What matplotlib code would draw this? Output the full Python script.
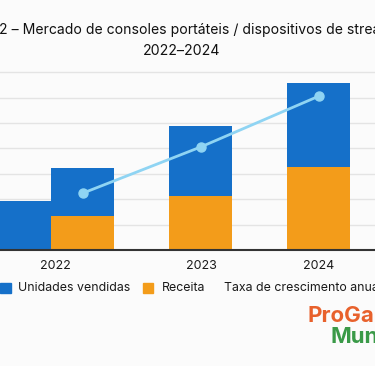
import matplotlib.pyplot as plt
from matplotlib.patches import Rectangle

plt.rcParams['font.family'] = ['Inter', 'DejaVu Sans']

# dados
anos = ['2022', '2023', '2024']
receita = [13.4, 21.3, 32.7]
unidades = [18.9, 27.7, 33.0]
unidades_extra_2022 = 19.3
taxa = [22.4, 40.6, 60.6]

azul = '#1570c9'
laranja = '#f39c1a'
azul_claro = '#8fd4f3'
fundo = '#fbfbfb'

fig = plt.figure(figsize=(3.75, 3.66), dpi=100, facecolor=fundo)
ax = fig.add_axes([0, 0.317, 1, 0.519], facecolor=fundo)

x = list(range(len(anos)))
largura = 0.534

# barra extra de 2022 (so unidades), colada a esquerda
ax.bar(-largura, unidades_extra_2022, width=largura, color=azul, zorder=2)
ax.bar(x, receita, width=largura, color=laranja, zorder=2)
ax.bar(x, unidades, bottom=receita, width=largura, color=azul, zorder=2)

ax.plot(x, taxa, color=azul_claro, lw=2, marker='o', ms=6.5, zorder=3)

ax.set_xlim(-0.703, 2.475)
ax.set_ylim(0, 74.8)
ax.set_yticks(range(0, 80, 10))
ax.yaxis.grid(True, color='#e4e4e4', lw=1, zorder=0)
ax.tick_params(axis='y', left=False, labelleft=False)

pos_ticks = [(-largura + 0) / 2 + 0.03, 1, 2]
ax.set_xticks(pos_ticks)
ax.set_xticklabels(anos, fontsize=9, color='#1a1a1a')
ax.tick_params(axis='x', length=0, pad=7)

for s in ['top', 'left', 'right']:
    ax.spines[s].set_visible(False)
ax.spines['bottom'].set_color('#333333')
ax.spines['bottom'].set_linewidth(1.5)

# titulo
fig.text(0.487, 0.918, 'Figura 2 – Mercado de consoles portáteis / dispositivos de streaming',
         ha='center', va='center', fontsize=10.1, color='#111111')
fig.text(0.485, 0.861, '2022–2024', ha='center', va='center', fontsize=10.2, color='#111111')

# legenda manual
ly = 0.213
fig.patches.append(Rectangle((0.0, ly - 0.014), 0.028, 0.028, transform=fig.transFigure,
                             color=azul, figure=fig))
fig.text(0.048, ly, 'Unidades vendidas', va='center', fontsize=8.9, color='#1a1a1a')
fig.patches.append(Rectangle((0.381, ly - 0.014), 0.028, 0.028, transform=fig.transFigure,
                             color=laranja, figure=fig))
fig.text(0.432, ly, 'Receita', va='center', fontsize=8.9, color='#1a1a1a')
fig.text(0.597, ly, 'Taxa de crescimento anual', va='center', fontsize=8.9, color='#1a1a1a')

# logo
fig.text(0.821, 0.137, 'ProGamer', ha='left', va='center', fontsize=16,
         fontweight='bold', color='#e8612c')
fig.text(0.88, 0.079, 'Mundo', ha='left', va='center', fontsize=16,
         fontweight='bold', color='#3a9a48')

fig.savefig('out.png', dpi=100, facecolor=fundo)
